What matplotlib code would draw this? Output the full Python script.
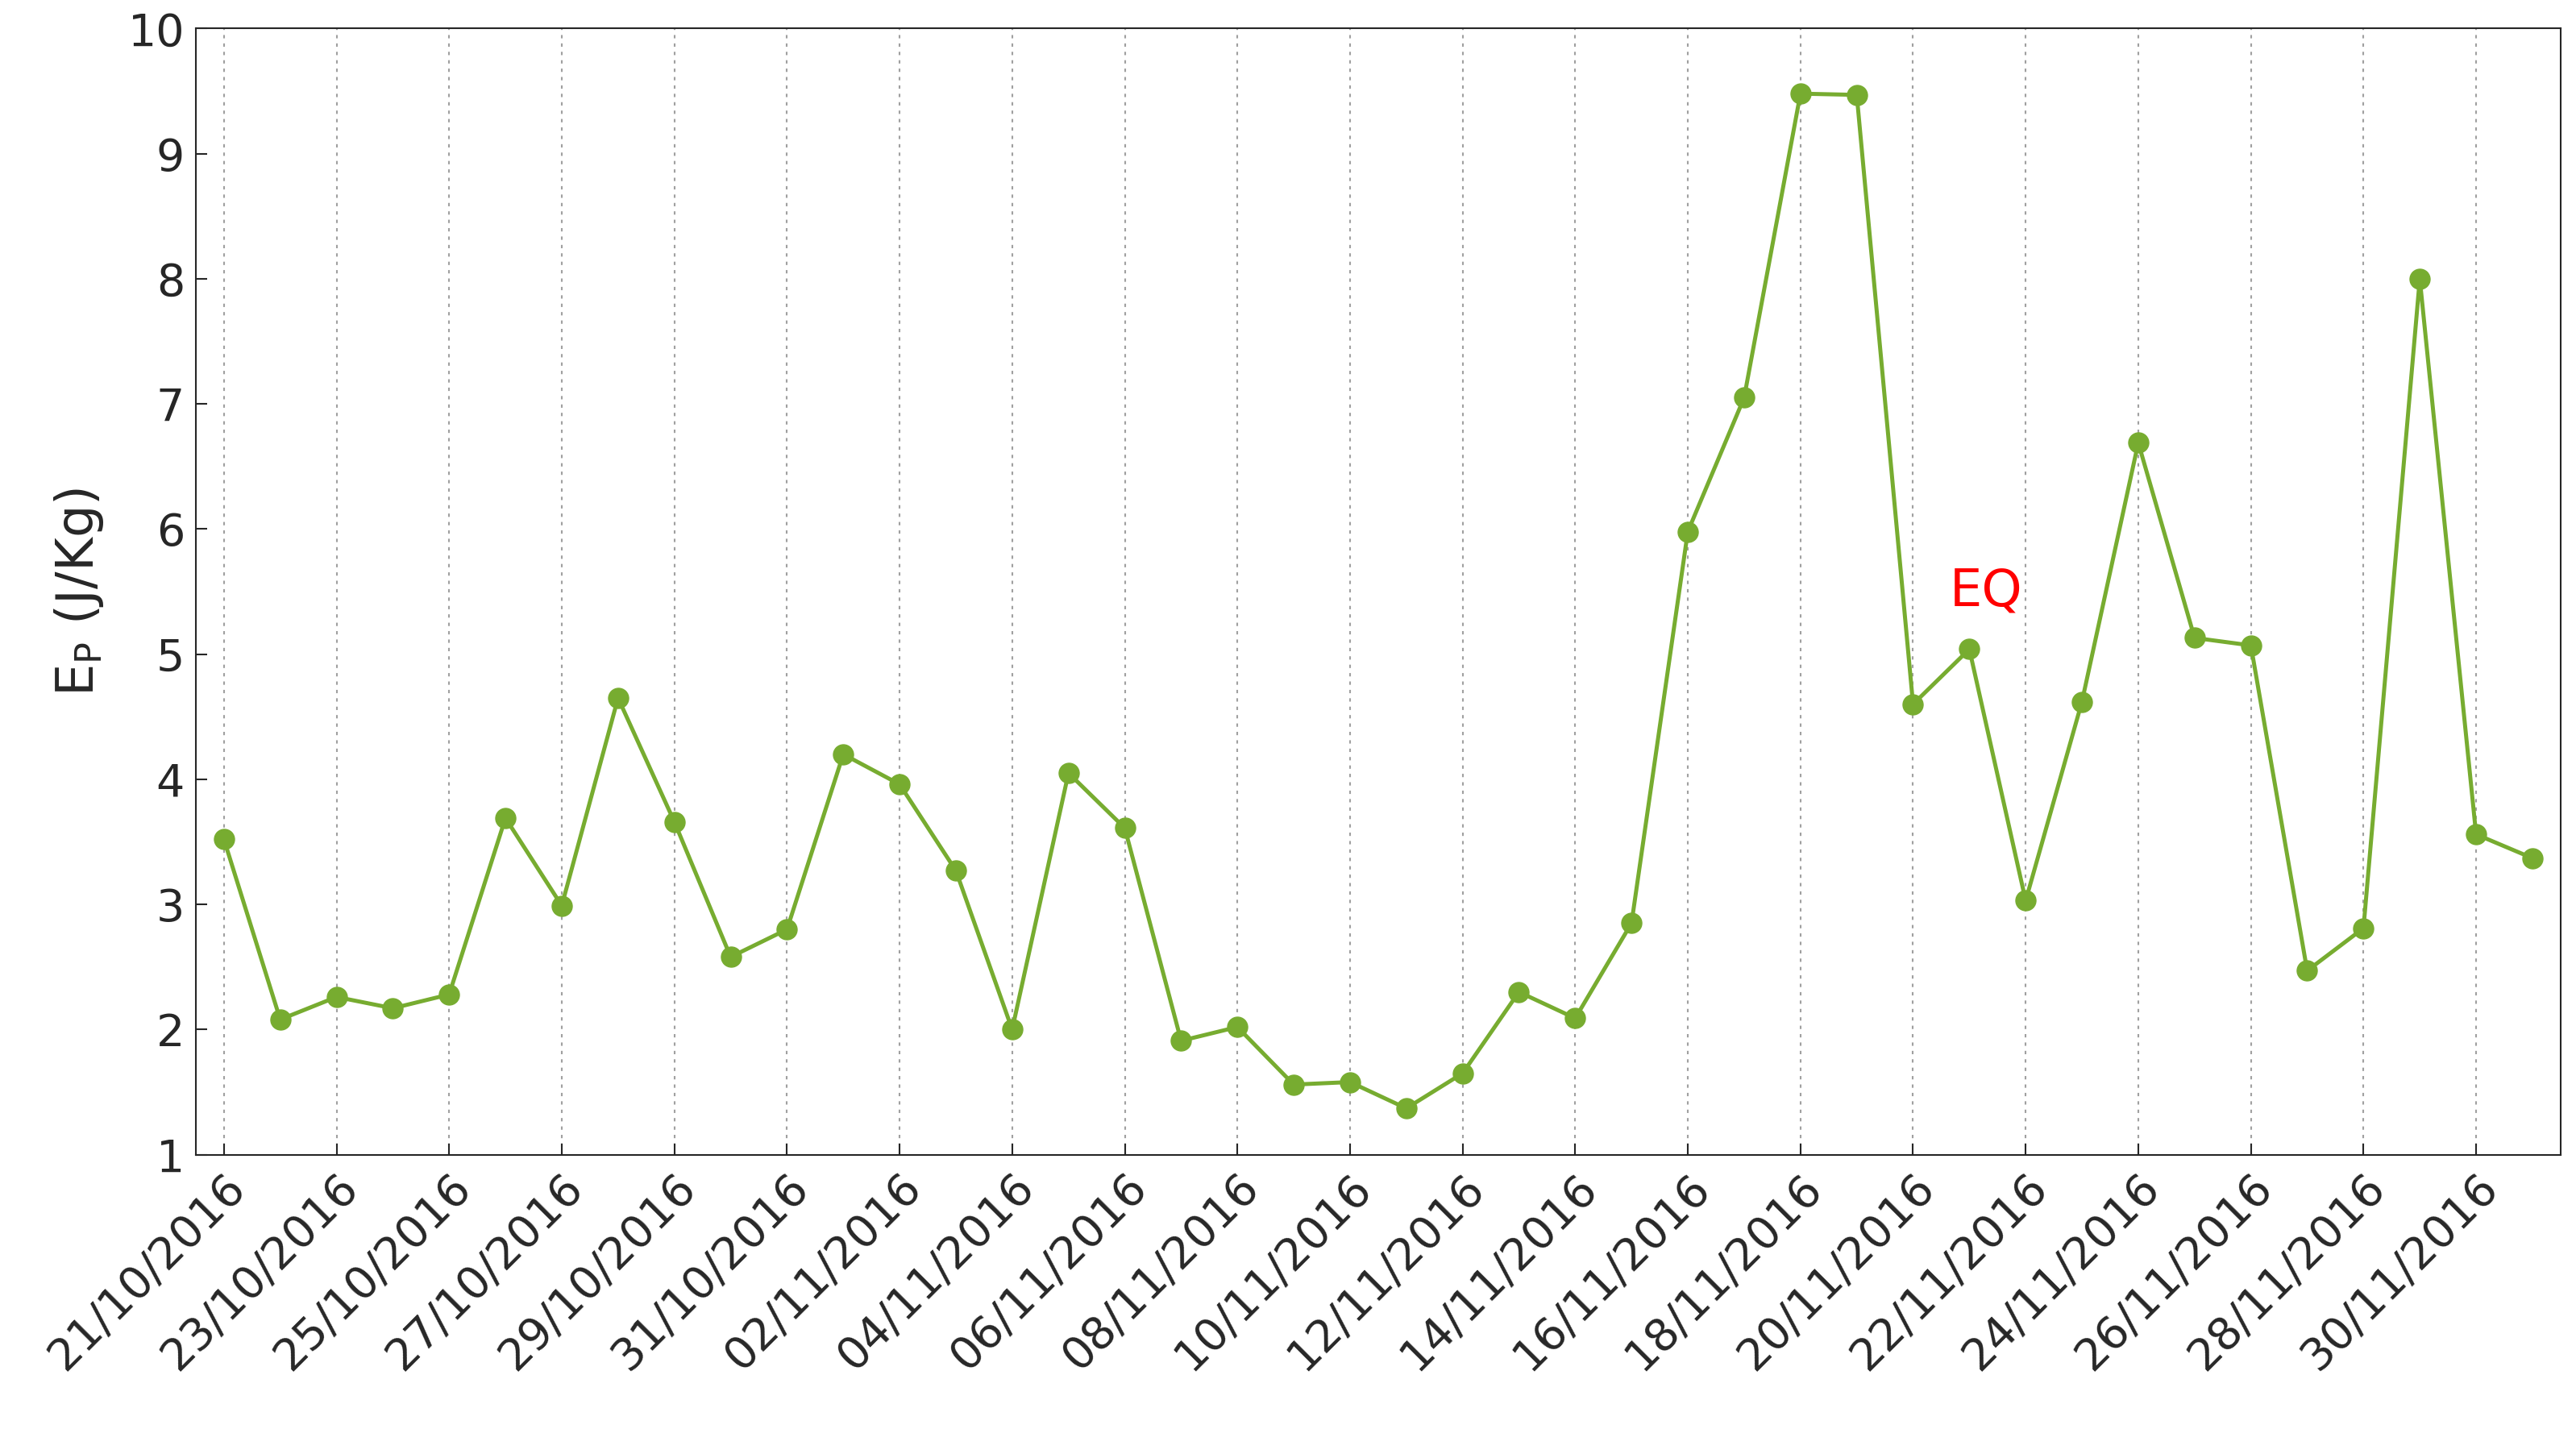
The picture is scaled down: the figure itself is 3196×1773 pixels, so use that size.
import matplotlib
matplotlib.use("Agg")
import matplotlib.pyplot as plt
import datetime as dt

start = dt.date(2016, 10, 21)
values = [3.52, 2.08, 2.26, 2.17, 2.28, 3.69, 2.99, 4.65, 3.66, 2.58, 2.80,
          4.20, 3.96, 3.27, 2.00, 4.05, 3.61, 1.91, 2.02, 1.56, 1.58, 1.37,
          1.65, 2.30, 2.09, 2.85, 5.98, 7.05, 9.48, 9.47, 4.60, 5.04, 3.03,
          4.62, 6.69, 5.13, 5.07, 2.47, 2.81, 8.00, 3.56, 3.37]
dates = [start + dt.timedelta(days=i) for i in range(len(values))]
tick_labels = [d.strftime("%d/%m/%Y") for d in dates[::2]]
eq_label = "EQ"
eq_pos = (31.3, 5.5)

fig = plt.figure(figsize=(31.96, 17.73), dpi=100)
ax = fig.add_axes([0.076, 0.192, 0.918, 0.788])
x = list(range(len(values)))
ax.plot(x, values, color="#77AC30", lw=3.6, marker="o", ms=18)
ax.set_xlim(-0.5, len(values) - 0.5)
ax.set_ylim(1, 10)
ax.set_yticks(range(1, 11))
ax.set_xticks(x[::2])
ax.set_xticklabels(tick_labels, rotation=45, ha="right", rotation_mode="anchor")
ax.tick_params(labelsize=40, length=10, width=1.5, direction="in", colors="#262626", pad=10)
ax.xaxis.grid(True, linestyle=(0, (2, 3)), color="#a0a0a0", lw=1.5)
ax.set_ylabel("E$_\\mathrm{P}$ (J/Kg)", fontsize=46, color="#262626", labelpad=20)
for s in ax.spines.values():
    s.set_color("#262626"); s.set_linewidth(1.5)
ax.text(*eq_pos, eq_label, color="red", fontsize=46, ha="center", va="center")
fig.savefig("out.png", dpi=100)
